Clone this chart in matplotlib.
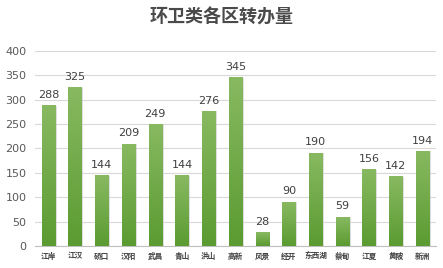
""" 环卫类各区转办量 """

import numpy as np
import matplotlib
matplotlib.use("Agg")
import matplotlib.pyplot as plt
from matplotlib.colors import LinearSegmentedColormap

plt.rcParams['font.family'] = ['Noto Sans CJK SC', 'DejaVu Sans']

# Data
districts = ['江岸', '江汉', '硚口', '汉阳', '武昌', '青山', '洪山', '高新',
             '风景', '经开', '东西湖', '蔡甸', '江夏', '黄陂', '新洲']
counts = [288, 325, 144, 209, 249, 144, 276, 345, 28, 90, 190, 59, 156, 142, 194]
y_ticks = [0, 50, 100, 150, 200, 250, 300, 350, 400]


def main():
    """ Main function """
    fig = plt.figure(figsize=(4.43, 2.68), dpi=100)
    ax = fig.add_axes([0.079, 0.082, 0.905, 0.728])

    x = np.arange(len(districts))
    bars = ax.bar(x, counts, width=0.5, color='none', zorder=3)

    # Gradient fill (light top, darker bottom) + soft shadow
    cmap = LinearSegmentedColormap.from_list('g', ['#5b9b31', '#88b961'])
    grad = np.linspace(0, 1, 100).reshape(-1, 1)
    for b in bars:
        x0, w, h = b.get_x(), b.get_width(), b.get_height()
        ax.bar(x0 + w / 2 + 0.06, h, width=w, bottom=0, color='#c8c8c8',
               alpha=0.6, zorder=2)
        ax.imshow(grad, extent=[x0, x0 + w, 0, h], origin='lower', cmap=cmap,
                  aspect='auto', zorder=3)

    # Value labels
    for xi, v in zip(x, counts):
        ax.text(xi, v + 12, str(v), ha='center', va='bottom', fontsize=8,
                color='#404040', family='DejaVu Sans')

    ax.set_xlim(-0.5, len(districts) - 0.5)
    ax.set_ylim(0, 400)
    ax.set_yticks(y_ticks)
    ax.set_xticks(x)
    ax.set_xticklabels(districts, fontsize=5.5, color='#404040', fontweight='bold')
    ax.tick_params(axis='y', labelsize=8, labelcolor='#595959', length=0, pad=6)
    ax.tick_params(axis='x', length=0, pad=4)
    for lbl in ax.get_yticklabels():
        lbl.set_family('DejaVu Sans')

    ax.grid(axis='y', color='#d9d9d9', linewidth=0.8, zorder=0)
    for s in ['left', 'right', 'top']:
        ax.spines[s].set_visible(False)
    ax.spines['bottom'].set_color('#bfbfbf')
    ax.set_axisbelow(True)

    fig.suptitle('环卫类各区转办量', x=0.5, y=0.97, fontsize=13,
                 color='#4a4a4a', fontweight='bold')

    fig.savefig('out.png', dpi=100)


if __name__ == "__main__":
    main()
